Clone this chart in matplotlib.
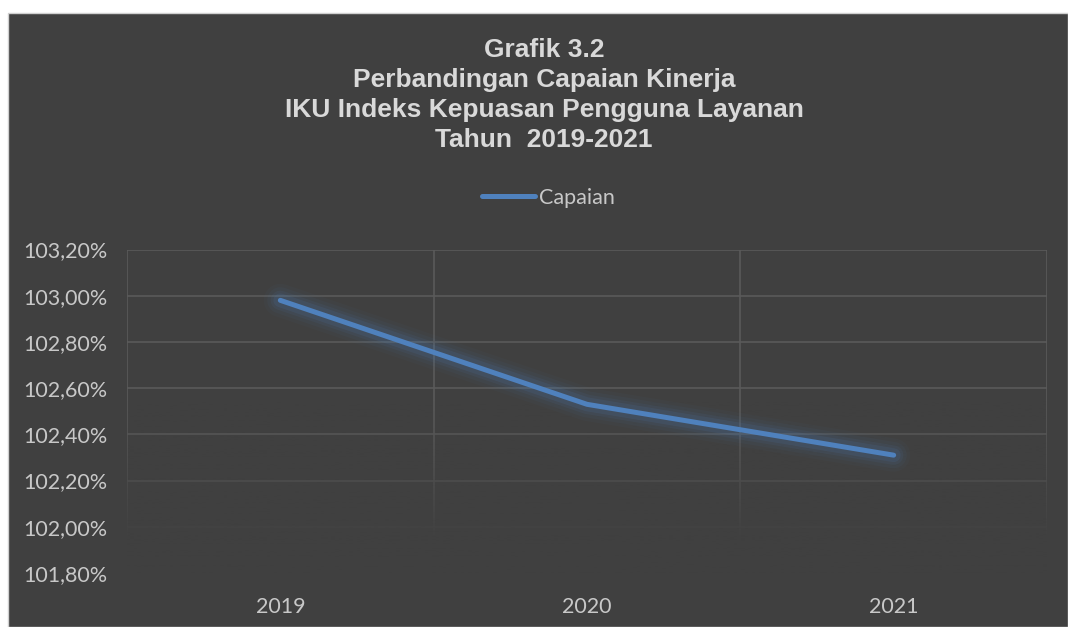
import numpy as np
import matplotlib.pyplot as plt
from matplotlib.patches import Rectangle
from matplotlib.ticker import FuncFormatter

# data
tahun = ["2019", "2020", "2021"]
capaian = [102.98, 102.53, 102.31]

title_lines = [
    "Grafik 3.2",
    "Perbandingan Capaian Kinerja",
    "IKU Indeks Kepuasan Pengguna Layanan",
    "Tahun  2019-2021",
]

BG = "#404040"
GRID = "#5a5a5a"
TEXT = "#c8c8c8"
TITLE = "#d9d9d9"
LINE = "#4f81bd"

W, H = 1068, 627
fig = plt.figure(figsize=(W / 100, H / 100), dpi=100)
fig.patch.set_facecolor("white")
# dark chart panel (white margin at top and left)
fig.patches.append(Rectangle((8 / W, 0), 1 - 8 / W, (H - 13) / H,
                             transform=fig.transFigure, facecolor=BG,
                             edgecolor="#d0d0d0", linewidth=1, zorder=-10))

ax = fig.add_axes([127 / W, 54 / H, 920 / W, 323.5 / H])
ax.set_facecolor("none")

x = np.arange(len(tahun))

# grid, drawn by hand
yt = np.round(np.arange(101.8, 103.21, 0.2), 2)
for v in yt[1:]:
    ax.axhline(v, color=GRID, lw=1.2, zorder=1)
for b in np.arange(-0.5, len(tahun), 1.0):
    ax.axvline(b, color=GRID, lw=1.2, zorder=1)

# fade the grid toward the bottom
lo, hi, full = 101.8, 102.55, 101.94
vals = np.linspace(lo, hi, 256)
alpha = np.clip((hi - vals) / (hi - full), 0, 1) ** 1.2
img = np.zeros((256, 1, 4))
img[..., :3] = np.array([0x40, 0x40, 0x40]) / 255
img[:, 0, 3] = alpha
ax.imshow(img, extent=(-0.5, 2.5, lo, hi), aspect="auto",
          origin="lower", zorder=2)
ax.set_xlim(-0.5, len(tahun) - 0.5)
ax.set_ylim(101.8, 103.2)

# glow + line
for w, a in [(24, 0.035), (19, 0.05), (14, 0.08), (10, 0.12)]:
    ax.plot(x, capaian, color=LINE, lw=w, alpha=a, solid_capstyle="round",
            solid_joinstyle="round", zorder=3)
ax.plot(x, capaian, color=LINE, lw=3.6, solid_capstyle="round",
        solid_joinstyle="round", zorder=4, label="Capaian")

ax.set_xticks(x)
ax.set_xticklabels(tahun)
ax.set_yticks(yt)
ax.yaxis.set_major_formatter(FuncFormatter(lambda v, p: f"{v:.2f}%".replace(".", ",")))
ax.tick_params(axis="both", length=0, colors=TEXT, labelsize=15.5)
ax.tick_params(axis="y", pad=14)
ax.tick_params(axis="x", pad=17)
for lab in ax.get_xticklabels() + ax.get_yticklabels():
    lab.set_fontfamily("Lato")
for s in ax.spines.values():
    s.set_visible(False)

# title
ys = [50, 80, 110, 140]
for t, yy in zip(title_lines, ys):
    fig.text(544 / W, 1 - yy / H, t, ha="center", va="center",
             fontsize=19, fontweight="bold", color=TITLE,
             family="Liberation Sans")

# legend
leg = fig.legend(loc="center", bbox_to_anchor=(548 / W, 1 - 198 / H),
                 frameon=False, handlelength=2.5, handletextpad=0.15,
                 prop={"family": "Lato", "size": 15.5})
for txt in leg.get_texts():
    txt.set_color(TEXT)

fig.savefig("out.png", dpi=100, facecolor=fig.get_facecolor())
